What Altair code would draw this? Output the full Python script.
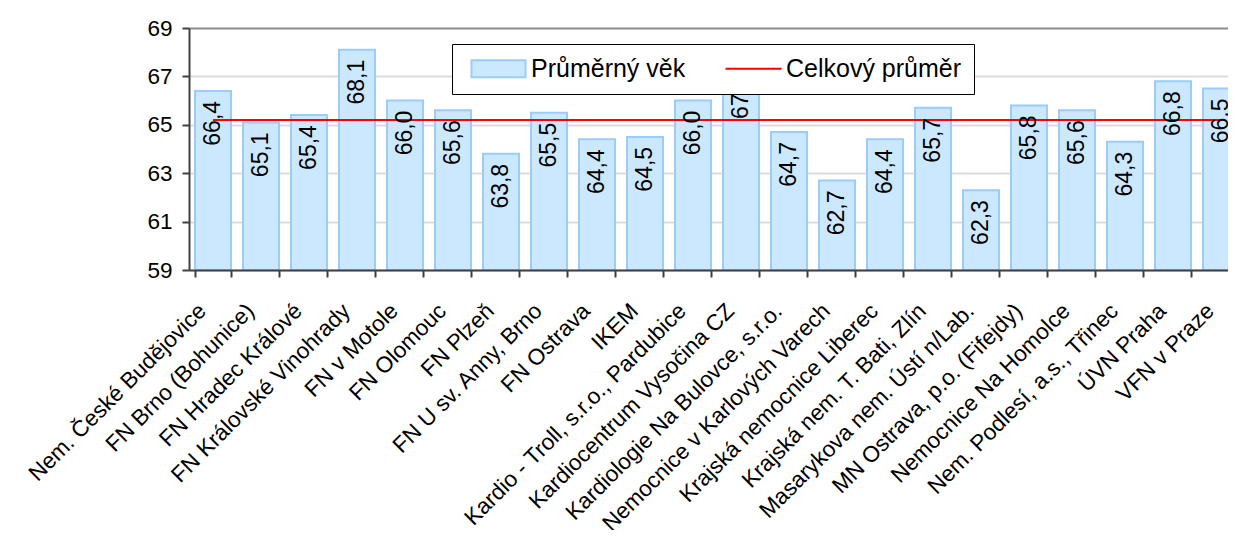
import altair as alt
import pandas as pd

hospitals = [
    "Nem. České Budějovice",
    "FN Brno (Bohunice)",
    "FN Hradec Králové",
    "FN Královské Vinohrady",
    "FN v Motole",
    "FN Olomouc",
    "FN Plzeň",
    "FN U sv. Anny, Brno",
    "FN Ostrava",
    "IKEM",
    "Kardio - Troll, s.r.o., Pardubice",
    "Kardiocentrum Vysočina CZ",
    "Kardiologie Na Bulovce, s.r.o.",
    "Nemocnice v Karlových Varech",
    "Krajská nemocnice Liberec",
    "Krajská nem. T. Bati, Zlín",
    "Masarykova nem. Ústí n/Lab.",
    "MN Ostrava, p.o. (Fifejdy)",
    "Nemocnice Na Homolce",
    "Nem. Podlesí, a.s., Třinec",
    "ÚVN Praha",
    "VFN v Praze",
]
ages = [66.4, 65.1, 65.4, 68.1, 66.0, 65.6, 63.8, 65.5, 64.4, 64.5, 66.0,
        67.5, 64.7, 62.7, 64.4, 65.7, 62.3, 65.8, 65.6, 64.3, 66.8, 66.5]
overall_mean = 65.2
series_bar = "Průměrný věk"
series_line = "Celkový průměr"
series = [series_bar, series_line]
y_ticks = [59, 61, 63, 65, 67, 69]

labels = [f"{v:.1f}".replace(".", ",") for v in ages]

df_bar = pd.DataFrame({"nemocnice": hospitals, "vek": ages, "popisek": labels, "serie": series_bar})
df_line = pd.DataFrame({"nemocnice": hospitals, "prumer": [overall_mean] * len(hospitals), "serie": series_line})

FONT = "Liberation Sans"
BAR_FILL = "#cce8ff"
BAR_STROKE = "#99ccff"
RED = "#ff0000"

x_enc = alt.X(
    "nemocnice:N",
    sort=hospitals,
    scale=alt.Scale(paddingInner=0.25, paddingOuter=0.125),
    axis=alt.Axis(
        title=None, labelAngle=315, labelAlign="right", labelBaseline="middle",
        labelFontSize=22.5, labelFont=FONT, labelColor="black", labelPadding=30,
        labelOffset=-11, labelLimit=500, tickBand="extent", tickSize=7,
        tickColor="#404040", tickWidth=2, domainColor="#404040", domainWidth=2,
        grid=False, zindex=1,
    ),
)
x_plain = alt.X("nemocnice:N", sort=hospitals)

y_scale = alt.Scale(domain=[59, 69], nice=False, zero=False)
y_axis = alt.Axis(
    title=None, values=y_ticks, format="d", labelFontSize=22.5, labelFont=FONT,
    labelColor="black", labelPadding=10, tickSize=7, tickColor="#404040",
    tickWidth=2, domainColor="#404040", domainWidth=2,
    gridColor=alt.condition("datum.value == 69", alt.value("#8c8c8c"), alt.value("#dcdcdc")),
    gridWidth=2,
)

legend = alt.Legend(
    title=None, orient="none", legendX=263, legendY=16, direction="horizontal",
    columns=2, fillColor="white", strokeColor="#000000",
    padding=12, labelFontSize=25, labelFont=FONT, labelColor="black",
    labelLimit=600, symbolSize=400, symbolStrokeWidth=2, symbolOffset=22,
    labelOffset=20, columnPadding=33, zindex=2,
)

fill_enc = alt.Fill("serie:N", scale=alt.Scale(domain=series, range=[BAR_FILL, RED]), legend=legend)
stroke_enc = alt.Stroke("serie:N", scale=alt.Scale(domain=series, range=[BAR_STROKE, RED]), legend=legend)
shape_enc = alt.Shape(
    "serie:N",
    scale=alt.Scale(domain=series, range=["M-2.7,-0.85H2.7V0.85H-2.7Z", "M-2.8,0H2.8"]),
    legend=legend,
)

bars = alt.Chart(df_bar).mark_bar(strokeWidth=2).encode(
    x=x_enc,
    y=alt.Y("vek:Q", scale=y_scale, axis=y_axis),
    y2=alt.datum(59),
    fill=fill_enc,
    stroke=stroke_enc,
)

line = alt.Chart(df_line).mark_line(strokeWidth=2).encode(
    x=x_plain,
    y=alt.Y("prumer:Q", scale=y_scale),
    stroke=stroke_enc,
)

legend_keys = alt.Chart(df_bar).transform_filter("false").mark_point(filled=True).encode(
    x=x_plain,
    y=alt.Y("vek:Q", scale=y_scale),
    shape=shape_enc,
)

texts = alt.Chart(df_bar).mark_text(
    angle=270, align="right", baseline="middle", dx=-10, fontSize=23,
    font=FONT, color="black",
).encode(
    x=x_plain,
    y=alt.Y("vek:Q", scale=y_scale),
    text="popisek:N",
)

chart = alt.layer(bars, line, texts, legend_keys).properties(
    width=1056,
    height=242,
    autosize=alt.AutoSizeParams(type="none"),
    padding={"left": 181, "top": 20, "right": -17, "bottom": 260},
    background="white",
).configure_view(strokeOpacity=0).configure_legend(strokeWidth=1)

chart.save("out.html", embed_options={"renderer": "svg", "actions": False})
